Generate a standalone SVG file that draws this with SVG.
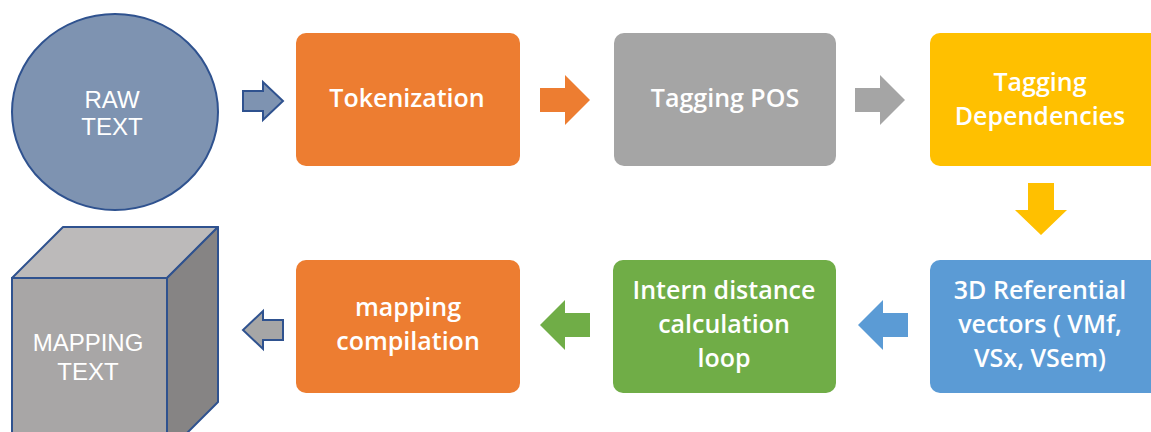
<svg xmlns="http://www.w3.org/2000/svg" width="1151" height="432" viewBox="0 0 1151 432">
<style>
.box{stroke:none}
.lbl{font-family:"Open Sans","Noto Sans",sans-serif;font-size:25px;font-weight:600;fill:#ffffff;text-anchor:middle}
.sm{font-family:"Liberation Sans",Arial,sans-serif;font-size:24px;fill:#ffffff;text-anchor:middle}
.outl{stroke:#2f528f;stroke-width:2;stroke-linejoin:miter}
</style>
<rect width="1151" height="432" fill="#ffffff"/>
<g id="raw-text">
<ellipse cx="115" cy="112" rx="103" ry="98" fill="#7e93b1" stroke="#2f528f" stroke-width="2"/>
<text class="sm" x="112" y="108">RAW</text>
<text class="sm" x="112" y="135">TEXT</text>
</g>
<g id="tokenization">
<rect class="box" x="296" y="33" width="224" height="133" rx="10" fill="#ed7d31"/>
<text class="lbl" x="407" y="107">Tokenization</text>
</g>
<g id="tagging-pos">
<rect class="box" x="614" y="33" width="222" height="133" rx="10" fill="#a5a5a5"/>
<text class="lbl" x="725" y="107">Tagging POS</text>
</g>
<g id="tagging-dependencies">
<rect class="box" x="930" y="33" width="230" height="133" rx="10" fill="#ffc000"/>
<text class="lbl" x="1040" y="91">Tagging</text>
<text class="lbl" x="1040" y="125">Dependencies</text>
</g>
<g id="referential-vectors">
<rect class="box" x="930" y="260" width="230" height="133" rx="10" fill="#5b9bd5"/>
<text class="lbl" x="1040" y="299">3D Referential</text>
<text class="lbl" x="1040" y="333">vectors ( VMf,</text>
<text class="lbl" x="1040" y="367">VSx, VSem)</text>
</g>
<g id="intern-distance">
<rect class="box" x="613" y="260" width="223" height="133" rx="10" fill="#70ad47"/>
<text class="lbl" x="724" y="299">Intern distance</text>
<text class="lbl" x="724" y="333">calculation</text>
<text class="lbl" x="724" y="367">loop</text>
</g>
<g id="mapping-compilation">
<rect class="box" x="296" y="260" width="224" height="133" rx="10" fill="#ed7d31"/>
<text class="lbl" x="408" y="316">mapping</text>
<text class="lbl" x="408" y="350">compilation</text>
</g>
<g id="mapping-text">
<polygon points="12,278 63,227 218,227 167,278" fill="#bcbaba" stroke="#2f528f" stroke-width="2" stroke-linejoin="round"/>
<polygon points="167,278 218,227 218,402 167,453" fill="#868484" stroke="#2f528f" stroke-width="2" stroke-linejoin="round"/>
<rect x="12" y="278" width="155" height="180" fill="#a8a6a6" stroke="#2f528f" stroke-width="2"/>
<text class="sm" x="88" y="351">MAPPING</text>
<text class="sm" x="88" y="380">TEXT</text>
</g>
<g id="connectors">
<polygon class="outl" points="243,91 263,91 263,82 283,101 263,120 263,111 243,111" fill="#7e93b1"/>
<polygon points="540,88 565,88 565,75 590,100 565,125 565,112 540,112" fill="#ed7d31"/>
<polygon points="855,88 880,88 880,75 905,100 880,125 880,112 855,112" fill="#a5a5a5"/>
<polygon points="1028,183 1054,183 1054,210 1067,210 1041,235 1015,210 1028,210" fill="#ffc000"/>
<polygon points="908,313 883,313 883,300 858,325 883,350 883,337 908,337" fill="#5b9bd5"/>
<polygon points="590,313 565,313 565,300 540,325 565,350 565,337 590,337" fill="#70ad47"/>
<polygon class="outl" points="283,320 263,320 263,311 243,330 263,349 263,340 283,340" fill="#a6a6a6"/>
</g>
</svg>
